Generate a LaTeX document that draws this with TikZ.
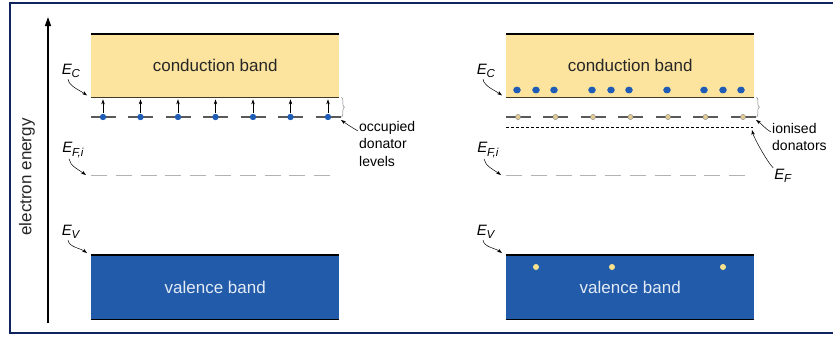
\documentclass[tikz,border=0pt]{standalone}
\usepackage{fontspec}
\setmainfont{Liberation Sans}
\usetikzlibrary{arrows.meta,decorations.pathreplacing}

\definecolor{cbyellow}{RGB}{252,228,158}
\definecolor{vbblue}{RGB}{33,91,170}
\definecolor{electron}{RGB}{30,92,182}
\definecolor{donor}{RGB}{224,204,146}
\definecolor{hole}{RGB}{250,226,140}
\definecolor{framenavy}{RGB}{16,36,96}

\newcommand{\elevel}[1]{\textit{E}\kern-0.5pt\raisebox{-0.45ex}{\fontsize{11.5}{12}\selectfont\textit{#1}}}

\begin{document}
\begin{tikzpicture}[x=1pt, y=-1pt,
    band/.style = {anchor=north west, minimum width=248pt, inner sep=0pt, font=\fontsize{17}{20}\selectfont},
    cband/.style = {band, fill=cbyellow, minimum height=63pt, text=black!85},
    vband/.style = {band, fill=vbblue, minimum height=64pt, text=white!88!vbblue},
    edge/.style = {line width=1.2pt},
    lvl/.style = {font=\fontsize{15}{15}\selectfont, inner sep=1pt},
    note/.style = {font=\fontsize{14}{17.5}\selectfont, align=left, inner sep=1pt, anchor=north west},
    ptr/.style = {-{Stealth[length=5pt,width=3.5pt]}, line width=0.5pt},
    level/.style = {line width=1.3pt, black!65},
    fermi/.style = {line width=1pt, gray!60, dash pattern=on 16pt off 8.8pt},
    brc/.style = {decorate, decoration={brace, amplitude=3pt}, gray, line width=0.5pt}]
    \useasboundingbox (0,0) rectangle (833,338);
    \draw[framenavy, line width=2.5pt] (833,3) -- (10,3) -- (10,333) -- (833,333);

    % energy axis
    \coordinate (axbot) at (48,323);
    \coordinate (axtop) at (48,17);
    \draw[-{Triangle[length=9pt,width=6pt]}, line width=1.2pt] (axbot) -- (axtop);
    \node[rotate=90, font=\fontsize{17}{20}\selectfont, text=black!85] (axlabel) at (27,177) {electron energy};

    % left: donors occupied
    \node[cband] (cbL) at (91,34) {conduction band};
    \draw[edge] (cbL.north west) -- (cbL.north east);
    \draw[line width=0.8pt, black!75!cbyellow] (cbL.south west) -- (cbL.south east);
    \foreach \i in {0,...,6} {
        \coordinate (dL\i) at (103+37.5*\i,117);
        \draw[level] ([xshift=-12.5pt]dL\i) -- ([xshift=12.5pt]dL\i);
        \draw[ptr] ([yshift=4pt]dL\i) -- ([yshift=-2pt]dL\i |- cbL.south);
        \fill[electron] (dL\i) circle (3.2pt);
    }
    \draw[brc] ([xshift=2pt]cbL.south east) -- ([xshift=2pt]cbL.south east |- dL6);
    \node[note] (occL) at (358,120) {occupied\\donator\\levels};
    \draw[ptr] ([yshift=-11pt]occL.north west) to[out=150,in=-35] ([xshift=13pt,yshift=-3pt]dL6);

    \node[lvl] (ecL) at (71,71) {\elevel{C}};
    \draw[ptr] ([xshift=-3pt]ecL.south) .. controls +(1,7) and +(-7,-5) .. ([xshift=-4pt,yshift=2pt]cbL.south west);

    \coordinate (fiL0) at (91,175);
    \coordinate (fiL1) at (333,175);
    \draw[fermi] (fiL0) -- (fiL1);
    \node[lvl] (fiLl) at (73,150) {\elevel{F,i}};
    \draw[ptr] ([xshift=-4pt]fiLl.south) .. controls +(1,7) and +(-7,-5) .. ([xshift=-5pt]fiL0);

    \node[vband] (vbL) at (91,255) {valence band};
    \draw[edge] (vbL.north west) -- (vbL.north east);
    \draw[edge] (vbL.south west) -- (vbL.south east);
    \node[lvl] (evL) at (71,232) {\elevel{V}};
    \draw[ptr] ([xshift=-3pt]evL.south) .. controls +(1,7) and +(-7,-5) .. ([xshift=-4pt,yshift=2pt]vbL.north west);

    % right: donors ionised
    \node[cband] (cbR) at (506,34) {conduction band};
    \draw[edge] (cbR.north west) -- (cbR.north east);
    \draw[line width=0.8pt, black!75!cbyellow] (cbR.south west) -- (cbR.south east);
    \foreach \x in {517,536,554,592,611,629,667,704,723,741}
        \fill[electron] (\x,90) ellipse (3.8pt and 3.4pt);
    \foreach \i in {0,...,6} {
        \coordinate (dR\i) at (518+37.5*\i,117);
        \draw[level] ([xshift=-12.5pt]dR\i) -- ([xshift=12.5pt]dR\i);
        \filldraw[fill=donor, draw=gray, line width=0.4pt] (dR\i) circle (2.6pt);
    }
    \draw[brc] ([xshift=2pt]cbR.south east) -- ([xshift=2pt]cbR.south east |- dR6);
    \node[note] (ionR) at (771,122) {ionised\\donators};
    \draw[ptr] ([yshift=-10pt]ionR.north west) to[out=150,in=-35] ([xshift=13pt,yshift=-3pt]dR6);

    \coordinate (efR0) at (506,127);
    \coordinate (efR1) at (753,127);
    \draw[line width=1pt, densely dashed] (efR0) -- (efR1);
    \node[lvl] (efR) at (783,176) {\elevel{F}};
    \draw[ptr] (efR.north west) .. controls +(-6,-6) and +(2,8) .. ([xshift=-1pt,yshift=-3pt]efR1);

    \node[lvl] (ecR) at (486,71) {\elevel{C}};
    \draw[ptr] ([xshift=-3pt]ecR.south) .. controls +(1,7) and +(-7,-5) .. ([xshift=-4pt,yshift=2pt]cbR.south west);

    \coordinate (fiR0) at (506,175);
    \coordinate (fiR1) at (753,175);
    \draw[fermi] (fiR0) -- (fiR1);
    \node[lvl] (fiRl) at (488,150) {\elevel{F,i}};
    \draw[ptr] ([xshift=-4pt]fiRl.south) .. controls +(1,7) and +(-7,-5) .. ([xshift=-5pt]fiR0);

    \node[vband] (vbR) at (506,255) {valence band};
    \draw[edge] (vbR.north west) -- (vbR.north east);
    \draw[edge] (vbR.south west) -- (vbR.south east);
    \foreach \x in {536,612,723}
        \fill[hole] (\x,267) circle (3pt);
    \node[lvl] (evR) at (486,232) {\elevel{V}};
    \draw[ptr] ([xshift=-3pt]evR.south) .. controls +(1,7) and +(-7,-5) .. ([xshift=-4pt,yshift=2pt]vbR.north west);
\end{tikzpicture}
\end{document}
